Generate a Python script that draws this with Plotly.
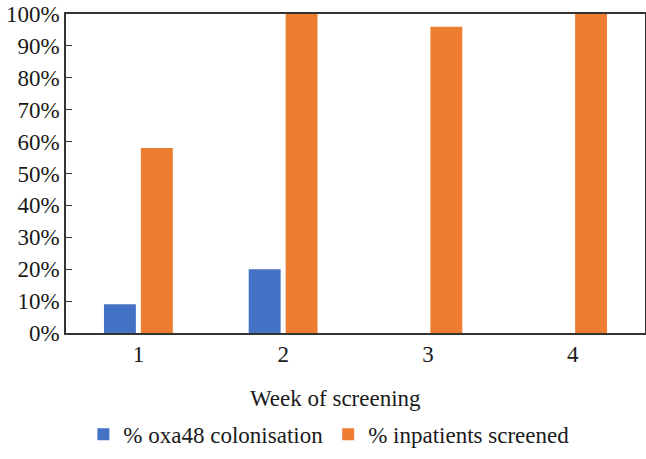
import plotly.graph_objects as go

weeks = ["1", "2", "3", "4"]
oxa48 = [9, 20, 0, 0]
screened = [58, 100, 96, 100]
tick_vals = [0, 10, 20, 30, 40, 50, 60, 70, 80, 90, 100]
tick_text = [f"{v}%" for v in tick_vals]

font = "Liberation Serif"
fs = 23

fig = go.Figure()
fig.add_trace(go.Bar(x=weeks, y=oxa48, name="% oxa48 colonisation",
                     marker=dict(color="#4472C4", line=dict(width=0))))
fig.add_trace(go.Bar(x=weeks, y=screened, name="% inpatients screened",
                     marker=dict(color="#ED7D31", line=dict(width=0))))

fig.update_layout(
    width=646, height=459,
    margin=dict(l=66, r=1, t=14, b=126, autoexpand=False),
    paper_bgcolor="white", plot_bgcolor="white",
    font=dict(family=font, size=fs, color="#1a1a1a"),
    barmode="group", bargap=0.49, bargroupgap=0.135,
    showlegend=True,
    legend=dict(orientation="h", x=0.03, xanchor="left", y=-0.25, yanchor="top",
                font=dict(size=fs, family=font), itemwidth=30, traceorder="normal"),
)
fig.update_xaxes(showline=True, linecolor="#333", linewidth=1.5, mirror=True,
                 ticks="", showgrid=False, tickfont=dict(size=fs, family=font),
                 automargin=False)
fig.update_yaxes(range=[0, 100], tickvals=tick_vals, ticktext=tick_text,
                 showline=True, linecolor="#333", linewidth=1.5, mirror=True,
                 ticks="inside", ticklen=6, tickcolor="#333", showgrid=False,
                 tickfont=dict(size=fs, family=font), zeroline=False,
                 automargin=False)
fig.add_annotation(text="Week of screening", xref="paper", yref="paper",
                   x=0.465, y=-0.16, xanchor="center", yanchor="top",
                   showarrow=False, font=dict(size=fs, family=font))

fig.write_html("out.html",
               post_script="document.body.style.margin='0';document.body.style.overflow='hidden';",
               config={"displayModeBar": False})
